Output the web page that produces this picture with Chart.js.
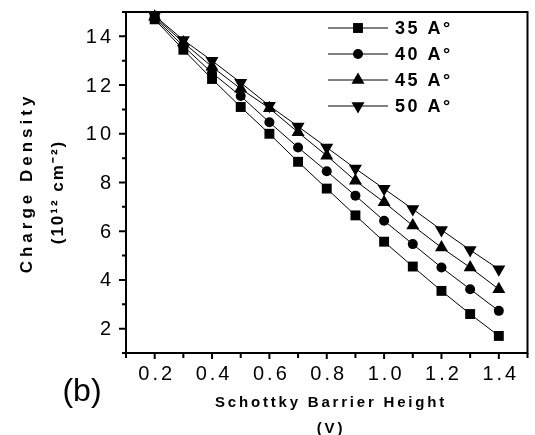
<!DOCTYPE html>
<html>
<head>
<meta charset="utf-8">
<script src="https://cdn.jsdelivr.net/npm/chart.js@4.4.0/dist/chart.umd.min.js"></script>
<style>
    html, body { margin: 0; padding: 0; background: #fff; }
    #wrap { width: 535px; height: 435px; }
</style>
</head>
<body>
<div id="wrap"><canvas id="chart" width="535" height="435"></canvas></div>
<script>
// Schottky barrier height (V)
const barrierHeights = [0.2, 0.3, 0.4, 0.5, 0.6, 0.7, 0.8, 0.9, 1.0, 1.1, 1.2, 1.3, 1.4];

// Charge density (10^12 cm^-2) for each thickness
const density35 = [14.7, 13.45, 12.25, 11.1, 10.0, 8.85, 7.75, 6.65, 5.57, 4.55, 3.55, 2.6, 1.7];
const density40 = [14.75, 13.6, 12.5, 11.55, 10.47, 9.44, 8.46, 7.46, 6.43, 5.47, 4.51, 3.62, 2.73];
const density45 = [14.8, 13.75, 12.75, 11.85, 11.05, 10.06, 9.1, 8.07, 7.19, 6.23, 5.33, 4.51, 3.62];
const density50 = [14.85, 13.85, 13.0, 12.1, 11.15, 10.3, 9.44, 8.57, 7.74, 6.91, 6.05, 5.23, 4.44];

const seriesLabels = ['35 A°', '40 A°', '45 A°', '50 A°'];
const seriesData = [density35, density40, density45, density50];
const seriesMarkers = ['rect', 'circle', 'triangle', 'triangle'];
const seriesRotation = [0, 0, 0, 180];
const seriesRadius = [7, 5, 7.5, 7.5];

const xTickLabels = ['0.2', '0.4', '0.6', '0.8', '1.0', '1.2', '1.4'];
const yTickLabels = ['2', '4', '6', '8', '10', '12', '14'];

const FONT = '"Liberation Sans", Arial, sans-serif';

const datasets = seriesData.map((values, i) => ({
    label: seriesLabels[i],
    data: barrierHeights.map((x, j) => ({ x: x, y: values[j] })),
    showLine: true,
    borderColor: '#000',
    borderWidth: 1,
    backgroundColor: '#000',
    pointStyle: seriesMarkers[i],
    rotation: seriesRotation[i],
    pointRadius: seriesRadius[i],
    pointHoverRadius: seriesRadius[i],
    pointBorderWidth: 0,
    pointBackgroundColor: '#000',
    clip: false
}));

function drawMarker(ctx, style, radius, rotation, x, y) {
    if (Chart.helpers && Chart.helpers.drawPoint) {
        ctx.fillStyle = '#000';
        ctx.strokeStyle = '#000';
        ctx.lineWidth = 0;
        Chart.helpers.drawPoint(ctx, { pointStyle: style, radius: radius, rotation: rotation, borderWidth: 0 }, x, y);
    }
}

const decorations = {
    id: 'decorations',
    afterDraw(chart) {
        const ctx = chart.ctx;
        const area = chart.chartArea;
        const xs = chart.scales.x;
        const ys = chart.scales.y;

        ctx.save();
        ctx.strokeStyle = '#000';
        ctx.fillStyle = '#000';

        // frame
        ctx.lineWidth = 2;
        ctx.strokeRect(area.left, area.top, area.right - area.left, area.bottom - area.top);

        // x ticks (major + minor halfway)
        const xMajor = xTickLabels.map(Number);
        const xMinor = [xMajor[0] - 0.1].concat(xMajor.map(v => v + 0.1));
        ctx.lineWidth = 2;
        ctx.beginPath();
        xMajor.forEach(v => {
            const px = xs.getPixelForValue(v);
            ctx.moveTo(px, area.bottom);
            ctx.lineTo(px, area.bottom + 6);
        });
        xMinor.forEach(v => {
            const px = xs.getPixelForValue(v);
            ctx.moveTo(px, area.bottom);
            ctx.lineTo(px, area.bottom + 5);
        });
        // y ticks
        const yMajor = yTickLabels.map(Number);
        const yMinor = [yMajor[0] - 1].concat(yMajor.map(v => v + 1));
        yMajor.forEach(v => {
            const py = ys.getPixelForValue(v);
            ctx.moveTo(area.left, py);
            ctx.lineTo(area.left - 7, py);
        });
        yMinor.forEach(v => {
            const py = ys.getPixelForValue(v);
            ctx.moveTo(area.left, py);
            ctx.lineTo(area.left - 4, py);
        });
        ctx.stroke();

        // tick labels
        ctx.font = '20px ' + FONT;
        ctx.letterSpacing = '3px';
        ctx.textBaseline = 'middle';
        ctx.textAlign = 'center';
        xTickLabels.forEach(t => {
            ctx.fillText(t, xs.getPixelForValue(Number(t)) + 2, area.bottom + 21);
        });
        ctx.textAlign = 'right';
        yTickLabels.forEach(t => {
            ctx.fillText(t, area.left - 12, ys.getPixelForValue(Number(t)) + 1);
        });

        // axis titles
        ctx.font = 'bold 15px ' + FONT;
        ctx.letterSpacing = '2.8px';
        ctx.textAlign = 'center';
        ctx.fillText('Schottky Barrier Height', 331, 403);
        ctx.fillText('(V)', 331, 429);

        ctx.save();
        ctx.translate(27, 183);
        ctx.rotate(-Math.PI / 2);
        ctx.font = 'bold 17px ' + FONT;
        ctx.letterSpacing = '4px';
        ctx.fillText('Charge Density', 0, 0);
        ctx.restore();

        ctx.save();
        ctx.translate(58, 192);
        ctx.rotate(-Math.PI / 2);
        ctx.font = 'bold 17px ' + FONT;
        ctx.letterSpacing = '2px';
        ctx.fillText('(10¹² cm⁻²)', 0, 0);
        ctx.restore();

        // panel label
        ctx.letterSpacing = '0px';
        ctx.font = '32px ' + FONT;
        ctx.fillText('(b)', 82, 392);

        // legend
        const rowY = [28, 54, 80, 106];
        chart.data.datasets.forEach((ds, i) => {
            const y = rowY[i];
            ctx.lineWidth = 1;
            ctx.beginPath();
            ctx.moveTo(328, y);
            ctx.lineTo(388, y);
            ctx.stroke();
            drawMarker(ctx, ds.pointStyle, ds.pointRadius, ds.rotation, 358, y);
            ctx.fillStyle = '#000';
            ctx.font = 'bold 18px ' + FONT;
            ctx.letterSpacing = '2.5px';
            ctx.textAlign = 'left';
            ctx.fillText(ds.label, 395, y + 1);
        });

        ctx.restore();
    }
};

new Chart(document.getElementById('chart'), {
    type: 'scatter',
    data: { datasets: datasets },
    options: {
        responsive: false,
        animation: false,
        devicePixelRatio: 1,
        layout: { padding: { top: 12, right: 3, left: 0, bottom: 0 } },
        plugins: {
            legend: { display: false },
            tooltip: { enabled: false }
        },
        scales: {
            x: {
                type: 'linear',
                min: 0.1,
                max: 1.5,
                grid: { display: false },
                border: { display: false },
                ticks: { display: false },
                afterFit: (scale) => { scale.height = 82; }
            },
            y: {
                type: 'linear',
                min: 1,
                max: 15,
                grid: { display: false },
                border: { display: false },
                ticks: { display: false },
                afterFit: (scale) => { scale.width = 126; }
            }
        }
    },
    plugins: [decorations]
});
</script>
</body>
</html>
